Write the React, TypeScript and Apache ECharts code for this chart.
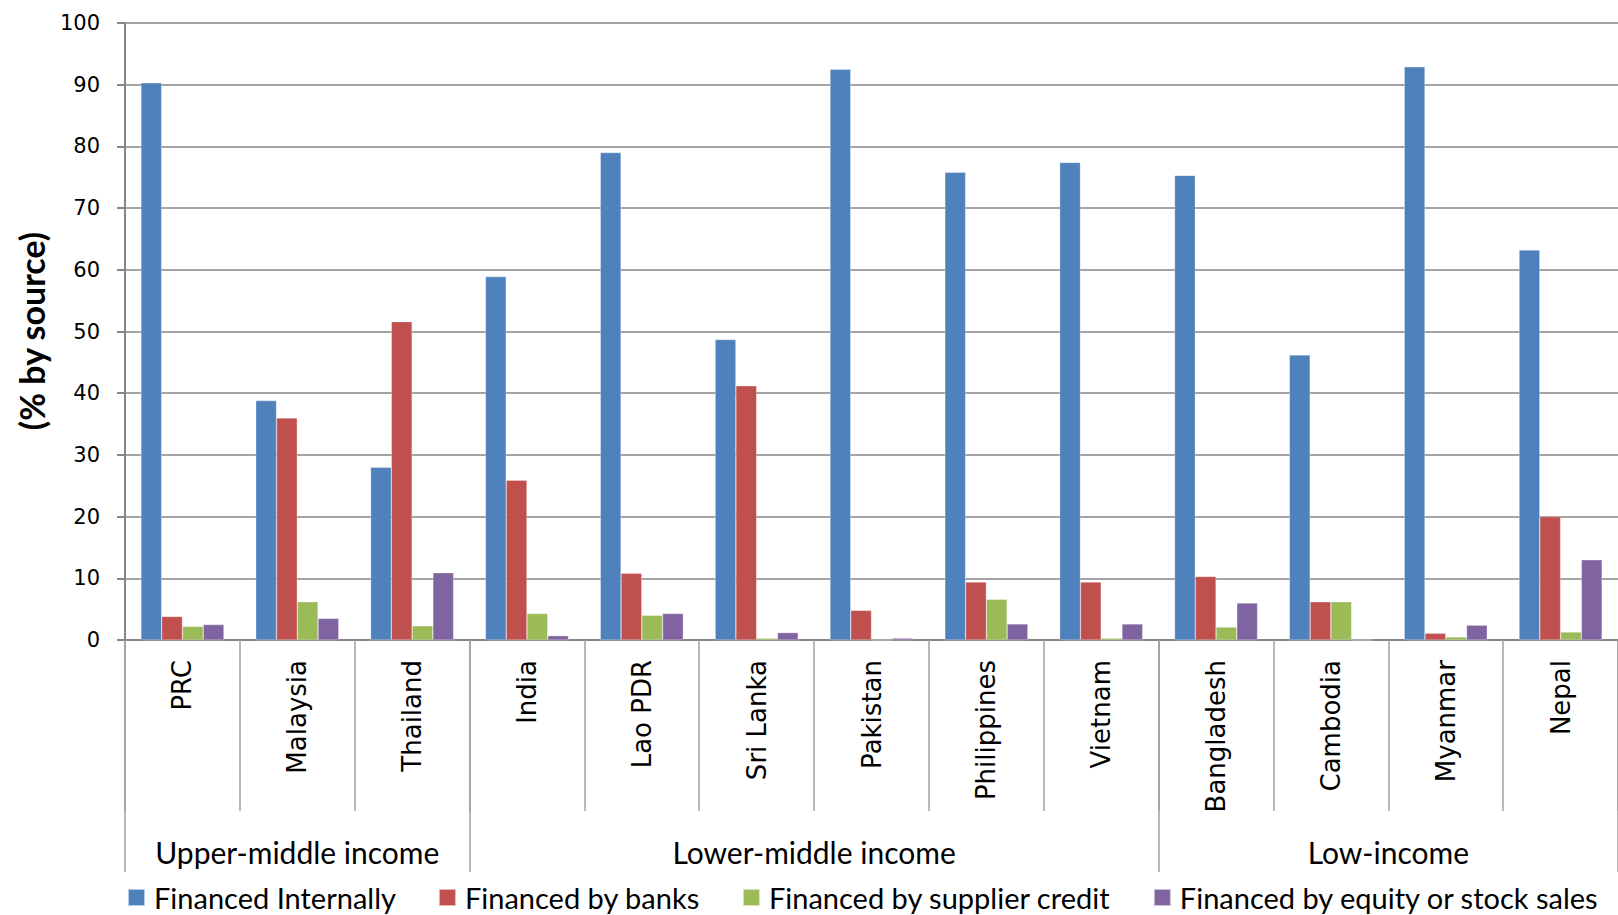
import React, { useEffect, useRef } from "react";
import * as echarts from "echarts";

const countries = ["PRC", "Malaysia", "Thailand", "India", "Lao PDR", "Sri Lanka", "Pakistan", "Philippines", "Vietnam", "Bangladesh", "Cambodia", "Myanmar", "Nepal"];
const financedInternally = [90.3, 38.8, 28.0, 58.9, 79.0, 48.7, 92.5, 75.8, 77.4, 75.3, 46.2, 92.9, 63.2];
const financedByBanks = [3.8, 36.0, 51.6, 25.9, 10.8, 41.2, 4.8, 9.4, 9.4, 10.3, 6.2, 1.1, 20.0];
const financedBySupplierCredit = [2.2, 6.2, 2.3, 4.3, 4.0, 0.3, 0, 6.6, 0.3, 2.1, 6.2, 0.5, 1.3];
const financedByEquity = [2.5, 3.5, 10.9, 0.7, 4.3, 1.2, 0.3, 2.6, 2.6, 6.0, 0, 2.4, 13.0];

const seriesNames = ["Financed Internally", "Financed by banks", "Financed by supplier credit", "Financed by equity or stock sales"];
const seriesColors = ["#4F81BD", "#C0504D", "#9BBB59", "#8064A2"];

const groupNames = ["Upper-middle income", "Lower-middle income", "Low-income"];
const groupBoundaries = [0, 3, 9, 13];
const groupCenters = [1.5, 6, 11];

const yTicks = [0, 10, 20, 30, 40, 50, 60, 70, 80, 90, 100];

export default function App() {
  const ref = useRef<HTMLDivElement>(null);
  useEffect(() => {
    if (!ref.current) return;
    const chart = echarts.init(ref.current, null, { renderer: "svg" });
    const values = [financedInternally, financedByBanks, financedBySupplierCredit, financedByEquity];
    chart.setOption({
      animation: false,
      backgroundColor: "#ffffff",
      color: seriesColors,
      grid: { left: 125, top: 23, width: 1502, height: 617, containLabel: false },
      legend: {
        left: 122,
        top: 878,
        icon: "rect",
        itemWidth: 17,
        itemHeight: 17,
        itemGap: 42,
        data: seriesNames,
        textStyle: { fontFamily: "Lato", fontSize: 29, color: "#000", padding: [0, 0, 0, 4] },
      },
      graphic: [
        {
          type: "text",
          x: 31,
          y: 331,
          rotation: Math.PI / 2,
          style: {
            text: "(% by source)",
            font: "bold 34px Lato",
            fill: "#000",
            textAlign: "center",
            textVerticalAlign: "middle",
          },
        },
      ],
      xAxis: [
        {
          type: "category",
          data: countries,
          position: "bottom",
          axisLine: { show: true, lineStyle: { color: "#868686", width: 2 } },
          axisTick: { show: true, interval: 0, length: 171, lineStyle: { color: "#a0a0a0", width: 1.5 } },
          axisLabel: {
            interval: 0,
            rotate: 90,
            margin: 20,
            fontFamily: "DejaVu Sans",
            fontSize: 26,
            color: "#000",
          },
        },
        {
          type: "value",
          min: 0,
          max: 13,
          position: "bottom",
          offset: 0,
          axisLine: { show: false },
          splitLine: { show: false },
          axisTick: {
            show: true,
            length: 232,
            customValues: groupBoundaries,
            lineStyle: { color: "#a0a0a0", width: 1.5 },
          },
          axisLabel: {
            show: true,
            customValues: groupCenters,
            margin: 212,
            verticalAlign: "middle",
            fontFamily: "Lato",
            fontSize: 30,
            color: "#000",
            formatter: (v: number) => {
              const i = groupCenters.indexOf(v);
              return i >= 0 ? groupNames[i] : "";
            },
          },
        },
      ],
      yAxis: {
        type: "value",
        min: 0,
        max: 100,
        interval: 10,
        axisLine: { show: true, lineStyle: { color: "#868686", width: 2 } },
        axisTick: { show: true, length: 8, lineStyle: { color: "#868686", width: 2 } },
        splitLine: { show: true, lineStyle: { color: "#868686", width: 1.5 } },
        axisLabel: {
          margin: 25,
          fontFamily: "DejaVu Sans",
          fontSize: 21,
          color: "#000",
          formatter: (v: number) => (yTicks.includes(v) ? String(v) : ""),
        },
      },
      series: seriesNames.map((name, i) => ({
        name,
        type: "bar",
        data: values[i],
        barGap: "0%",
        barCategoryGap: "27.7%",
        itemStyle: { color: seriesColors[i], borderColor: "rgba(255,255,255,0.6)", borderWidth: 0.5 },
      })),
    });
    return () => chart.dispose();
  }, []);
  return <div ref={ref} style={{ position: "fixed", left: 0, top: 0, width: 1618, height: 915 }} />;
}
